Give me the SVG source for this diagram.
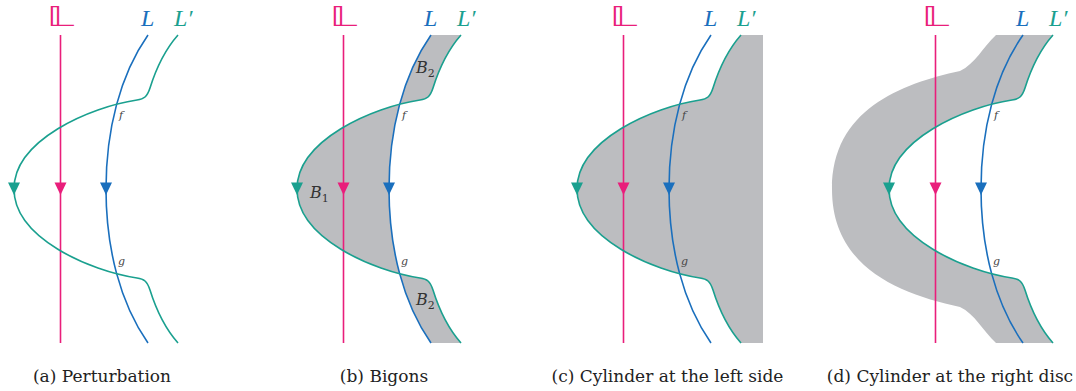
<svg xmlns="http://www.w3.org/2000/svg" xmlns:xlink="http://www.w3.org/1999/xlink" width="1076" height="391" viewBox="0 0 1076 391">
<style>
.gray{fill:#bcbdc0;stroke:none}
.pk{fill:none;stroke:#e91e7b;stroke-width:1.6}
.bl{fill:none;stroke:#1a6fbd;stroke-width:1.6}
.tl{fill:none;stroke:#1aa08f;stroke-width:1.6}
.apk{fill:#e91e7b}
.abl{fill:#1a6fbd}
.atl{fill:#1aa08f}
.lab{font-family:"Liberation Serif","DejaVu Serif",serif;font-style:italic;font-size:24px}
.bb{font-family:"DejaVu Sans","DejaVu Serif",sans-serif;font-size:27px;fill:#e91e7b}
.sm{font-family:"DejaVu Serif","Liberation Serif",serif;font-style:italic;font-size:11px;fill:#444}
.bn{font-family:"DejaVu Serif","Liberation Serif",serif;font-style:italic;font-size:16px;fill:#333}
.cap{font-family:"DejaVu Serif","Liberation Serif",serif;font-size:17px;fill:#222;text-anchor:middle}
</style>
<defs>
<path id="Lc" d="M148,35 C120,75 106,130 106,189 C106,248 120,303 148,343"/>
<path id="Tc" d="M178,35 C163,52 155,72 150,88 C147,97 144,99 137,100 C90,107 14,140 14,189 C14,238 90,271 137,278 C144,279 147,281 150,290 C155,306 163,326 178,343"/>
<g id="base">
<text class="bb" x="0" y="0" text-anchor="middle" transform="translate(60.5,26) scale(1.55,1)">𝕃</text>
<text class="lab" x="141" y="26" fill="#1a6fbd">L</text>
<text class="lab" x="174" y="26" fill="#1aa08f">L′</text>
<path class="pk" d="M60.5,35 V343"/>
<use xlink:href="#Lc" class="bl"/>
<use xlink:href="#Tc" class="tl"/>
<path class="apk" d="M54.5,182.5 H66.5 L60.5,195 Z"/>
<path class="abl" d="M100,182.5 H112 L106,195 Z"/>
<path class="atl" d="M8,182.5 H20 L14,195 Z"/>
<text class="sm" x="119" y="119">f</text>
<text class="sm" x="118" y="265">g</text>
</g>
</defs>
<g id="panel-a">
<use xlink:href="#base"/>
<text class="cap" x="102" y="382">(a) Perturbation</text>
</g>
<g id="panel-b" transform="translate(283,0)">
<path class="gray" d="M148,35 C120,75 106,130 106,189 C106,248 120,303 148,343 L178,343 C163,326 155,306 150,290 C147,281 144,279 137,278 C90,271 14,238 14,189 C14,140 90,107 137,100 C144,99 147,97 150,88 C155,72 163,52 178,35 Z"/>
<use xlink:href="#base"/>
<text class="bn" x="133" y="73">B<tspan font-size="11" dy="4" font-style="normal">2</tspan></text>
<text class="bn" x="27" y="198">B<tspan font-size="11" dy="4" font-style="normal">1</tspan></text>
<text class="bn" x="133" y="305">B<tspan font-size="11" dy="4" font-style="normal">2</tspan></text>
<text class="cap" x="101" y="382">(b) Bigons</text>
</g>
<g id="panel-c" transform="translate(563,0)">
<path class="gray" d="M178,35 C163,52 155,72 150,88 C147,97 144,99 137,100 C90,107 14,140 14,189 C14,238 90,271 137,278 C144,279 147,281 150,290 C155,306 163,326 178,343 L200,343 L200,35 Z"/>
<use xlink:href="#base"/>
<text class="cap" x="104.5" y="382">(c) Cylinder at the left side</text>
</g>
<g id="panel-d" transform="translate(875,0)">
<path class="gray" d="M121,35 C108,47 100,64 85,71 C25,84 -43,110 -43,189 C-43,268 25,294 85,307 C100,314 108,331 121,343 L178,343 C163,326 155,306 150,290 C147,281 144,279 137,278 C90,271 14,238 14,189 C14,140 90,107 137,100 C144,99 147,97 150,88 C155,72 163,52 178,35 Z"/>
<use xlink:href="#base"/>
<text class="cap" x="75" y="382">(d) Cylinder at the right disc</text>
</g>
</svg>
